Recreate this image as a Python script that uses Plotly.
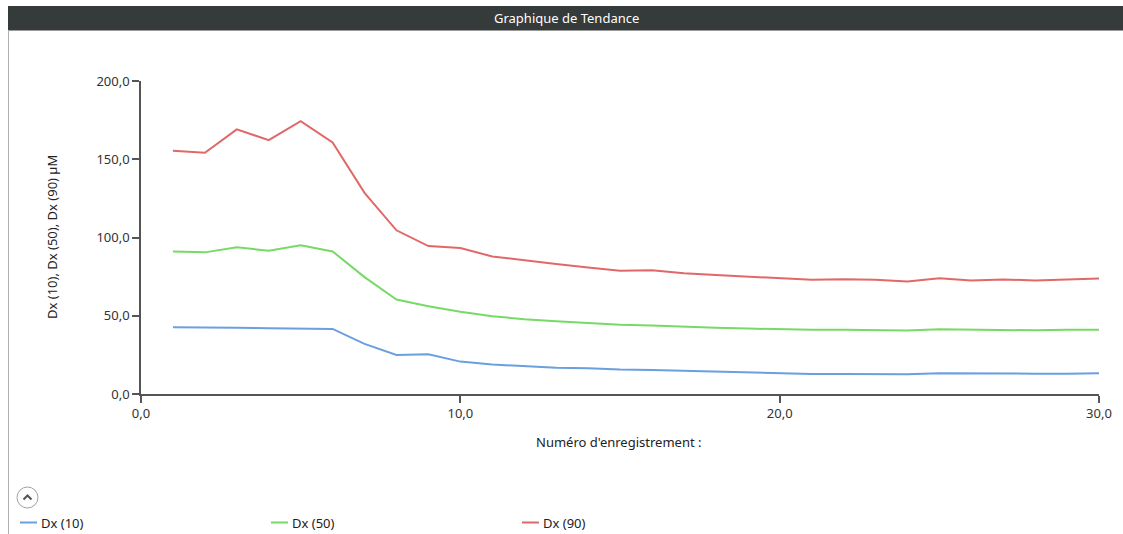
import plotly.graph_objects as go

# ---- data ----
record_no = list(range(1, 31))
dx10 = [42.7, 42.3, 42.3, 42.0, 42.0, 41.6, 32.0, 25.0, 25.4, 20.7,
        18.8, 17.7, 16.8, 16.4, 15.6, 15.4, 14.9, 14.5, 14.1, 13.4,
        12.8, 12.8, 12.8, 12.6, 13.2, 13.0, 13.2, 13.0, 13.0, 13.2]
dx50 = [91.1, 90.5, 93.7, 91.6, 95.0, 91.1, 74.7, 60.4, 56.1, 52.5,
        49.7, 47.8, 46.5, 45.5, 44.2, 43.7, 42.9, 42.3, 41.8, 41.2,
        41.0, 41.0, 40.8, 40.5, 41.3, 41.0, 41.0, 40.7, 41.0, 41.1]
dx90 = [155.4, 154.1, 169.1, 162.2, 174.4, 160.7, 128.5, 104.6, 94.5, 93.3,
        87.9, 85.4, 83.0, 80.9, 78.8, 79.0, 77.2, 76.0, 74.9, 73.8,
        73.0, 73.4, 73.0, 71.9, 74.0, 72.6, 73.2, 72.6, 73.4, 73.8]
series_names = ["Dx (10)", "Dx (50)", "Dx (90)"]
series_colors = ["#6a9fe0", "#77da66", "#e06868"]
x_ticks = [0, 10, 20, 30]
y_ticks = [0, 50, 100, 150, 200]

W, H = 1123, 534
L, R, T, B = 141, 1099, 81, 394
FONT = "Segoe UI, Noto Sans, sans-serif"
FS = 13


def px(x):
    return (x - L) / (R - L)


def py(y):
    return (B - y) / (B - T)


fig = go.Figure()
for name, vals, col in zip(series_names, [dx10, dx50, dx90], series_colors):
    fig.add_trace(go.Scatter(x=record_no, y=vals, mode="lines", name=name,
                             line=dict(color=col, width=2), showlegend=False))

shapes = []
annotations = []
# title bar
shapes.append(dict(type="rect", xref="paper", yref="paper", x0=px(8), x1=px(1123),
                   y0=py(6), y1=py(30), fillcolor="#353a3a", line=dict(width=0), layer="below"))
shapes.append(dict(type="line", xref="paper", yref="paper", x0=px(8), x1=px(1123),
                   y0=py(30.5), y1=py(30.5), line=dict(color="#9a9a9a", width=1)))
# left border
shapes.append(dict(type="line", xref="paper", yref="paper", x0=px(8.5), x1=px(8.5),
                   y0=py(30), y1=py(534), line=dict(color="#b0b0b0", width=1)))
annotations.append(dict(text="Graphique de Tendance", xref="paper", yref="paper",
                        x=px(566), y=py(18.5), showarrow=False, xanchor="center", yanchor="middle",
                        font=dict(family=FONT, size=FS, color="#ffffff")))
# axis titles
annotations.append(dict(text="Numéro d'enregistrement :", xref="paper", yref="paper",
                        x=px(619), y=py(442), showarrow=False, xanchor="center", yanchor="middle",
                        font=dict(family=FONT, size=FS, color="#222222")))
annotations.append(dict(text="Dx (10), Dx (50), Dx (90) µM", xref="paper", yref="paper",
                        x=px(52), y=py(237), showarrow=False, textangle=-90,
                        xanchor="center", yanchor="middle",
                        font=dict(family=FONT, size=FS, color="#222222")))
# collapse button
shapes.append(dict(type="circle", xref="paper", yref="paper", x0=px(17), x1=px(38),
                   y0=py(487), y1=py(508), line=dict(color="#a0a0a0", width=1), fillcolor="white"))
shapes.append(dict(type="path", xref="paper", yref="paper",
                   path=f"M {px(23.5)} {py(499.5)} L {px(27.5)} {py(495.5)} L {px(31.5)} {py(499.5)}",
                   line=dict(color="#555555", width=2)))
# legend
leg_x = [20, 271, 522]
for name, col, lx in zip(series_names, series_colors, leg_x):
    shapes.append(dict(type="line", xref="paper", yref="paper", x0=px(lx), x1=px(lx + 17),
                       y0=py(522.5), y1=py(522.5), line=dict(color=col, width=2)))
    annotations.append(dict(text=name, xref="paper", yref="paper", x=px(lx + 19), y=py(522.5),
                            showarrow=False, xanchor="left", yanchor="middle",
                            font=dict(family=FONT, size=FS, color="#222222")))

axis_common = dict(showgrid=False, zeroline=False, showline=True, linecolor="#555555",
                   linewidth=1.5, ticks="outside", ticklen=7, tickcolor="#555555", tickwidth=1.5,
                   tickfont=dict(family=FONT, size=FS, color="#333333"), tickformat=".1f")
fig.update_layout(
    width=W, height=H,
    margin=dict(l=L, r=W - R, t=T, b=H - B),
    paper_bgcolor="white", plot_bgcolor="white",
    separators=",.",
    xaxis=dict(range=[0, 30], tickvals=x_ticks, **axis_common),
    yaxis=dict(range=[0, 200], tickvals=y_ticks, **axis_common),
    shapes=shapes, annotations=annotations,
    showlegend=False,
)
fig.write_html("out.html", config={"displayModeBar": False},
               post_script="document.body.style.margin='0px';document.body.style.overflow='hidden';")
